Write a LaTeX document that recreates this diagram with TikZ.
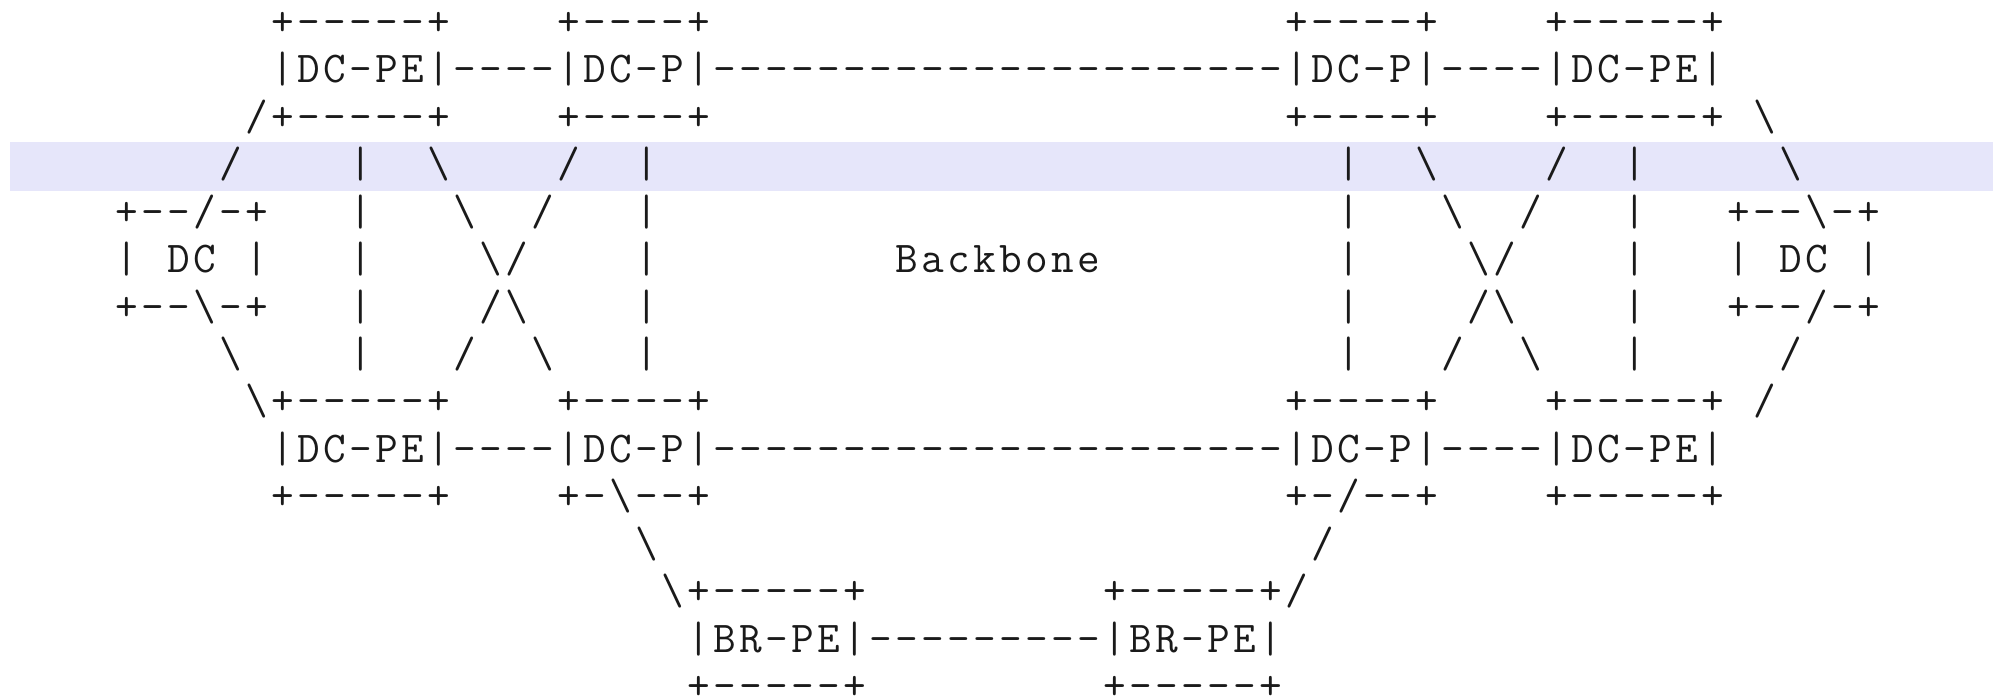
\documentclass[tikz,border=0pt]{standalone}
\usepackage{fontspec}
\definecolor{band}{HTML}{E6E6FA}
\definecolor{ink}{HTML}{1A1A1A}
\tikzset{asc/.style={anchor=base west, inner sep=0pt, outer sep=0pt, text=ink,
  font=\ttfamily\fontsize{22pt}{26pt}\selectfont}}
% every character sits in a cell 13pt (26px) wide
\def\monostop{monostop}
\def\monoloop#1{\ifx#1\monostop\else\makebox[13pt]{#1}\expandafter\monoloop\fi}
% place a text segment: name, row, column, text
\newcommand\putseg[4]{\node[asc] (#1) at ({114.3+26*#3},{27.3+47.45*#2})
  {\raisebox{-4pt}[11pt][0pt]{\monoloop#4\monostop}};}
\newcommand\bs{\textbackslash}
\begin{document}
\begin{tikzpicture}[x=0.5pt,y=-0.5pt]
\useasboundingbox (0,0) rectangle (1993,698);
\fill[band] (10,142) rectangle (1993,191);
% row 0
\putseg{r0a}{0}{6}{+-----+}
\putseg{r0b}{0}{17}{+----+}
\putseg{r0c}{0}{45}{+----+}
\putseg{r0d}{0}{55}{+-----+}
% row 1
\putseg{r1}{1}{6}{|DC-PE|----|DC-P|----------------------|DC-P|----|DC-PE|}
% row 2
\putseg{r2a}{2}{5}{/+-----+}
\putseg{r2b}{2}{17}{+----+}
\putseg{r2c}{2}{45}{+----+}
\putseg{r2d}{2}{55}{+-----+}
\putseg{r2e}{2}{63}{\bs}
% row 3
\putseg{r3a}{3}{4}{/}
\putseg{r3b}{3}{9}{|}
\putseg{r3c}{3}{12}{\bs}
\putseg{r3d}{3}{17}{/}
\putseg{r3e}{3}{20}{|}
\putseg{r3f}{3}{47}{|}
\putseg{r3g}{3}{50}{\bs}
\putseg{r3h}{3}{55}{/}
\putseg{r3i}{3}{58}{|}
\putseg{r3j}{3}{64}{\bs}
% row 4
\putseg{r4a}{4}{0}{+--/-+}
\putseg{r4b}{4}{9}{|}
\putseg{r4c}{4}{13}{\bs}
\putseg{r4d}{4}{16}{/}
\putseg{r4e}{4}{20}{|}
\putseg{r4f}{4}{47}{|}
\putseg{r4g}{4}{51}{\bs}
\putseg{r4h}{4}{54}{/}
\putseg{r4i}{4}{58}{|}
\putseg{r4j}{4}{62}{+--\bs-+}
% row 5
\putseg{r5a}{5}{0}{|}
\putseg{r5b}{5}{2}{DC}
\putseg{r5c}{5}{5}{|}
\putseg{r5d}{5}{9}{|}
\putseg{r5e}{5}{14}{\bs/}
\putseg{r5f}{5}{20}{|}
\putseg{r5g}{5}{30}{Backbone}
\putseg{r5h}{5}{47}{|}
\putseg{r5i}{5}{52}{\bs/}
\putseg{r5j}{5}{58}{|}
\putseg{r5k}{5}{62}{|}
\putseg{r5l}{5}{64}{DC}
\putseg{r5m}{5}{67}{|}
% row 6
\putseg{r6a}{6}{0}{+--\bs-+}
\putseg{r6b}{6}{9}{|}
\putseg{r6c}{6}{14}{/\bs}
\putseg{r6d}{6}{20}{|}
\putseg{r6e}{6}{47}{|}
\putseg{r6f}{6}{52}{/\bs}
\putseg{r6g}{6}{58}{|}
\putseg{r6h}{6}{62}{+--/-+}
% row 7
\putseg{r7a}{7}{4}{\bs}
\putseg{r7b}{7}{9}{|}
\putseg{r7c}{7}{13}{/}
\putseg{r7d}{7}{16}{\bs}
\putseg{r7e}{7}{20}{|}
\putseg{r7f}{7}{47}{|}
\putseg{r7g}{7}{51}{/}
\putseg{r7h}{7}{54}{\bs}
\putseg{r7i}{7}{58}{|}
\putseg{r7j}{7}{64}{/}
% row 8
\putseg{r8a}{8}{5}{\bs+-----+}
\putseg{r8b}{8}{17}{+----+}
\putseg{r8c}{8}{45}{+----+}
\putseg{r8d}{8}{55}{+-----+}
\putseg{r8e}{8}{63}{/}
% row 9
\putseg{r9}{9}{6}{|DC-PE|----|DC-P|----------------------|DC-P|----|DC-PE|}
% row 10
\putseg{r10a}{10}{6}{+-----+}
\putseg{r10b}{10}{17}{+-\bs--+}
\putseg{r10c}{10}{45}{+-/--+}
\putseg{r10d}{10}{55}{+-----+}
% row 11
\putseg{r11a}{11}{20}{\bs}
\putseg{r11b}{11}{46}{/}
% row 12
\putseg{r12a}{12}{21}{\bs+-----+}
\putseg{r12b}{12}{38}{+-----+/}
% row 13
\putseg{r13}{13}{22}{|BR-PE|---------|BR-PE|}
% row 14
\putseg{r14a}{14}{22}{+-----+}
\putseg{r14b}{14}{38}{+-----+}
\end{tikzpicture}
\end{document}
